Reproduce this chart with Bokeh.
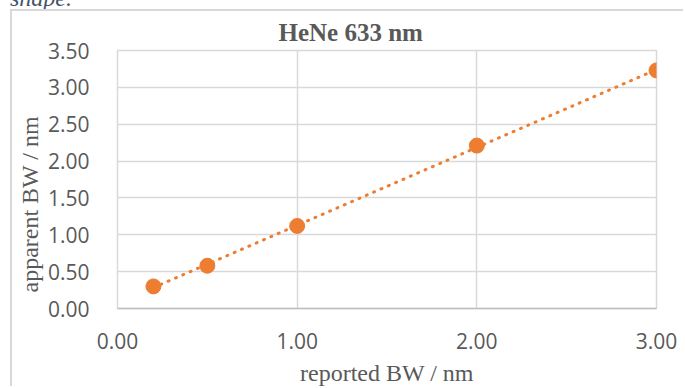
import numpy as np
from bokeh.plotting import figure
from bokeh.layouts import column
from bokeh.models import (ColumnDataSource, FixedTicker, NumeralTickFormatter,
                          Title, Range1d, Div)
from bokeh.embed import file_html
from bokeh.resources import INLINE

# Measured bandwidths for the HeNe 633 nm line
reported_bw = [0.2, 0.5, 1.0, 2.0, 3.0]
apparent_bw = [0.30, 0.58, 1.12, 2.21, 3.23]

x_ticks = [0.0, 1.0, 2.0, 3.0]
y_ticks = [0.0, 0.5, 1.0, 1.5, 2.0, 2.5, 3.0, 3.5]

title_text = "HeNe 633 nm"
x_label = "reported BW / nm"
y_label = "apparent BW / nm"
caption_tail = "shape."

ORANGE = "#ED7D31"
GREY_TEXT = "#595959"
GRID = "#D9D9D9"
SERIF = "Liberation Serif"
SANS = "Open Sans"

# tail of the caption line sitting above the chart box
caption = Div(
    text=('<div style="position:relative; top:-14px; left:10px; white-space:nowrap; '
          'font-family:\'Liberation Serif\'; font-style:italic; font-size:24px; '
          'line-height:24px; color:#44546A;">' + caption_tail + '</div>'),
    width=685, height=9, margin=(0, 0, 0, 0), styles={"overflow": "visible"})

p = figure(width=673, height=377, output_backend="svg", toolbar_location=None,
           x_range=Range1d(0, 3), y_range=Range1d(0, 3.5),
           min_border_left=103, min_border_right=29,
           min_border_top=36, min_border_bottom=76,
           margin=(0, 0, 0, 10),
           styles={"border-top": "2px solid #D9D9D9",
                   "border-left": "2px solid #D9D9D9"})
p.background_fill_color = "white"
p.border_fill_color = "white"
p.outline_line_color = GRID
p.outline_line_width = 1.5

# chart title, shifted left of the plot-area centre
p.title.text = title_text
p.title.align = "left"
p.title.offset = 161
p.title.text_font = SERIF
p.title.text_font_style = "bold"
p.title.text_font_size = "25px"
p.title.text_color = GREY_TEXT

# axes
for ax, ticks in ((p.xaxis, x_ticks), (p.yaxis, y_ticks)):
    ax.ticker = FixedTicker(ticks=ticks)
    ax.formatter = NumeralTickFormatter(format="0.00")
    ax.major_tick_line_color = None
    ax.minor_tick_line_color = None
    ax.major_label_text_font = SANS
    ax.major_label_text_font_size = "21px"
    ax.major_label_text_color = GREY_TEXT
p.yaxis.axis_line_color = None
p.xaxis.axis_line_color = "#BFBFBF"
p.xaxis.axis_line_width = 1.5
p.yaxis.major_label_standoff = 22
p.xaxis.major_label_standoff = 18

p.xaxis.axis_label = x_label
p.xaxis.axis_label_text_font = SERIF
p.xaxis.axis_label_text_font_style = "normal"
p.xaxis.axis_label_text_font_size = "24px"
p.xaxis.axis_label_text_color = GREY_TEXT
p.xaxis.axis_label_standoff = 8

# vertical axis title, placed a little below the plot-area centre
p.add_layout(Title(text=y_label, align="left", offset=16, text_font=SERIF,
                   text_font_style="normal", text_font_size="24px",
                   text_color=GREY_TEXT, standoff=4), "left")

p.xgrid.ticker = FixedTicker(ticks=x_ticks)
p.ygrid.ticker = FixedTicker(ticks=y_ticks)
p.xgrid.grid_line_color = GRID
p.ygrid.grid_line_color = GRID
p.xgrid.grid_line_width = 1.5
p.ygrid.grid_line_width = 1.5

# linear trendline fitted to the measurements
slope, intercept = np.polyfit(reported_bw, apparent_bw, 1)
fit_x = [min(reported_bw), max(reported_bw)]
fit_y = [slope * v + intercept for v in fit_x]
p.line(fit_x, fit_y, line_color=ORANGE, line_width=3, line_dash="1 7",
       line_cap="round")

src = ColumnDataSource(data=dict(x=reported_bw, y=apparent_bw))
p.scatter("x", "y", source=src, size=15, fill_color=ORANGE, line_color=ORANGE)

page = column(caption, p, spacing=0, styles={"background-color": "white"})

open("out.html", "w").write(file_html(page, INLINE))
